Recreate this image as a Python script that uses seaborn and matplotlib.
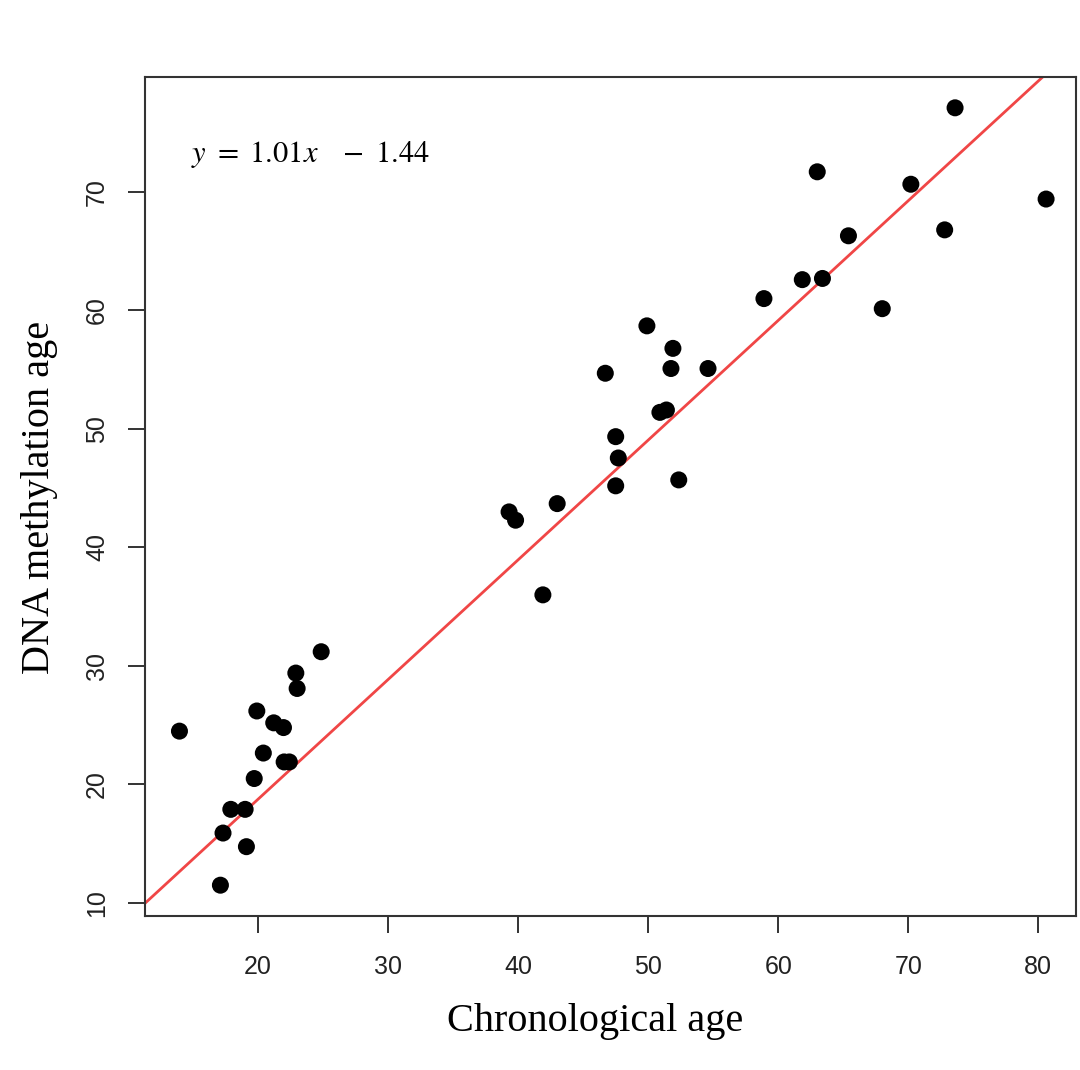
import numpy as np
import pandas as pd
import matplotlib
matplotlib.use("Agg")
import matplotlib.pyplot as plt
import seaborn as sns

# Data
chronological_age = [13.95, 24.85, 22.9, 23.0, 19.9, 21.2, 21.95, 20.4, 22.0, 22.4,
                     19.7, 17.9, 19.0, 17.3, 19.1, 17.1,
                     49.9, 51.9, 46.7, 51.75, 54.6, 50.9, 51.4, 47.5, 47.7, 47.5,
                     52.35, 43.0, 39.3, 39.8, 41.9,
                     73.6, 63.0, 80.6, 70.2, 65.4, 72.8, 61.85, 63.4, 58.9, 68.0]
methylation_age = [24.5, 31.2, 29.4, 28.1, 26.2, 25.2, 24.8, 22.65, 21.9, 21.9,
                   20.5, 17.9, 17.9, 15.9, 14.75, 11.5,
                   58.7, 56.8, 54.7, 55.1, 55.1, 51.4, 51.6, 49.35, 47.55, 45.2,
                   45.7, 43.7, 43.0, 42.3, 36.0,
                   77.1, 71.7, 69.4, 70.65, 66.3, 66.8, 62.6, 62.7, 61.0, 60.15]
slope = 1.01
intercept = -1.44
x_ticks = [20, 30, 40, 50, 60, 70, 80]
y_ticks = [10, 20, 30, 40, 50, 60, 70]

df = pd.DataFrame({"chrono": chronological_age, "dnam": methylation_age})

sns.set_theme(style="white")
plt.rcParams["mathtext.fontset"] = "stix"

fig = plt.figure(figsize=(10.8, 10.7), dpi=100)
ax = fig.add_axes([145/1080, 1 - 916/1070, 931/1080, 839/1070])

sns.scatterplot(data=df, x="chrono", y="dnam", ax=ax, s=150, color="black",
                edgecolor="none", linewidth=0, zorder=3)

xlim = (11.3, 82.9)
ylim = (8.9, 79.7)
xs = np.array(xlim)
ax.plot(xs, slope * xs + intercept, color="#f04646", lw=2.0, zorder=2)
ax.set_xlim(*xlim)
ax.set_ylim(*ylim)

ax.set_xticks(x_ticks)
ax.set_yticks(y_ticks)
ax.set_xticklabels([str(t) for t in x_ticks], fontsize=18, family="Liberation Sans", color="#222222")
ax.set_yticklabels([str(t) for t in y_ticks], fontsize=18, family="Liberation Sans", color="#222222",
                   rotation=90, va="center")
ax.tick_params(axis="both", direction="out", length=12, width=1.4, color="#333333",
               bottom=True, left=True)
ax.tick_params(axis="x", pad=16)
ax.tick_params(axis="y", pad=14)
for sp in ax.spines.values():
    sp.set_color("#333333")
    sp.set_linewidth(1.5)
ax.set_xlabel("")
ax.set_ylabel("")
ax.grid(False)

fig.text(595/1080, 1 - 1022/1070, "Chronological age", family="Liberation Serif",
         fontsize=29, ha="center", va="center", color="black")
fig.text(40/1080, 1 - 497/1070, "DNA methylation age", family="Liberation Serif",
         fontsize=29, ha="center", va="center", rotation=90, color="black")
fig.text(191/1080, 1 - 155/1070, r"$y\ =\ 1.01x\ \ \ -\ 1.44$", fontsize=22,
         ha="left", va="center", color="black")

fig.savefig("out.png", dpi=100, facecolor="white")
